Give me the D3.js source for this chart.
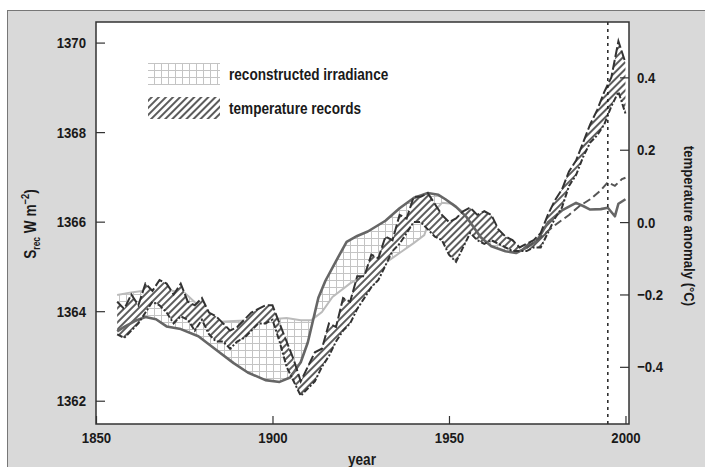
<!DOCTYPE html>
<html>
<head>
<meta charset="utf-8">
<script src="https://cdn.jsdelivr.net/npm/d3@7"></script>
<style>
body { margin: 0; background: #fff; }
svg text { font-family: "Liberation Sans", Arial, sans-serif; font-weight: bold; fill: #1a1a1a; }
</style>
</head>
<body>
<svg id="chart" width="705" height="467"></svg>
<script>
// tick labels
var yearTicks = [1850, 1900, 1950, 2000];
var irrTicks = [1362, 1364, 1366, 1368, 1370];
var tempTicks = [-0.4, -0.2, 0.0, 0.2, 0.4];

// reconstructed irradiance, dark solid curve (W m-2)
var solidYears = [1856, 1858, 1861, 1864, 1867, 1870, 1874, 1879, 1884, 1889, 1893, 1898, 1902, 1905, 1908, 1910, 1913, 1915, 1918, 1921, 1924, 1927, 1932, 1936, 1940, 1944, 1947, 1949, 1952, 1955, 1959, 1962, 1966, 1969, 1972, 1975, 1978, 1982, 1986, 1988, 1990, 1993, 1995, 1997, 1998, 2000];
var solidIrr = [1363.55, 1363.65, 1363.78, 1363.87, 1363.82, 1363.66, 1363.60, 1363.44, 1363.14, 1362.84, 1362.63, 1362.46, 1362.42, 1362.52, 1362.86, 1363.30, 1364.30, 1364.68, 1365.12, 1365.55, 1365.68, 1365.78, 1366.02, 1366.30, 1366.53, 1366.64, 1366.60, 1366.50, 1366.33, 1366.10, 1365.65, 1365.45, 1365.34, 1365.30, 1365.42, 1365.58, 1365.98, 1366.25, 1366.42, 1366.35, 1366.27, 1366.28, 1366.31, 1366.12, 1366.40, 1366.50];

// reconstructed irradiance, light curve (other edge of the band)
var lightYears = [1856, 1860, 1864, 1867, 1871, 1875, 1878, 1880, 1884, 1889, 1894, 1898, 1904, 1908, 1911, 1914, 1917, 1922, 1927, 1932, 1936, 1940, 1943, 1945, 1948, 1951, 1955, 1958, 1962, 1966, 1969, 1972];
var lightIrr = [1364.36, 1364.42, 1364.46, 1364.48, 1364.46, 1364.42, 1364.20, 1364.02, 1363.76, 1363.78, 1363.80, 1363.81, 1363.85, 1363.80, 1363.80, 1363.98, 1364.32, 1364.62, 1364.85, 1365.08, 1365.30, 1365.52, 1365.70, 1366.15, 1366.42, 1366.40, 1366.15, 1365.85, 1365.58, 1365.42, 1365.32, 1365.42];

// late dashed irradiance curve
var dashYears = [1972, 1976, 1980, 1984, 1987, 1990, 1993, 1995, 1997, 1999, 2000];
var dashIrr = [1365.42, 1365.66, 1365.92, 1366.15, 1366.35, 1366.50, 1366.70, 1366.88, 1366.80, 1366.95, 1366.98];

// temperature records, upper and lower edge (deg C)
var tempYears = d3.range(1856, 2001, 2);
var tempHigh = [-0.22, -0.24, -0.20, -0.23, -0.17, -0.19, -0.16, -0.17, -0.20, -0.17, -0.22, -0.23, -0.21, -0.25, -0.26, -0.28, -0.30, -0.29, -0.27, -0.25, -0.24, -0.23, -0.23, -0.28, -0.33, -0.38, -0.44, -0.40, -0.36, -0.35, -0.28, -0.29, -0.21, -0.22, -0.15, -0.15, -0.09, -0.10, -0.04, -0.05, 0.02, 0.01, 0.07, 0.07, 0.08, 0.05, 0.02, 0.00, 0.01, 0.03, 0.04, 0.02, 0.03, 0.02, -0.02, -0.04, -0.05, -0.07, -0.06, -0.05, -0.03, 0.02, 0.06, 0.09, 0.14, 0.17, 0.22, 0.27, 0.31, 0.36, 0.40, 0.50, 0.44];
var tempLow = [-0.31, -0.32, -0.30, -0.28, -0.25, -0.22, -0.23, -0.25, -0.28, -0.26, -0.27, -0.30, -0.27, -0.31, -0.33, -0.33, -0.35, -0.33, -0.32, -0.30, -0.28, -0.28, -0.27, -0.33, -0.40, -0.44, -0.48, -0.46, -0.44, -0.40, -0.37, -0.33, -0.30, -0.28, -0.24, -0.21, -0.18, -0.16, -0.12, -0.08, -0.06, -0.03, 0.00, 0.00, -0.02, -0.04, -0.05, -0.09, -0.11, -0.07, -0.03, -0.05, -0.06, -0.05, -0.06, -0.07, -0.08, -0.08, -0.08, -0.07, -0.07, -0.03, 0.01, 0.04, 0.10, 0.13, 0.18, 0.22, 0.24, 0.27, 0.32, 0.36, 0.30];

var markYear = 1995;

// horizontal squeeze, the original uses a condensed face
var k = 0.85;

function squeeze(sel)
{
    sel.each(function() {
        var t = d3.select(this);
        var xx = +t.attr("x") || 0;
        var tr = t.attr("transform") || "";
        t.attr("x", xx / k)
         .attr("transform", tr + " scale(" + k + ",1)");
    });
}

function main()
{
    var left = 96, right = 629, top = 22, bottom = 424;

    var svg = d3.select("#chart");

    var x = d3.scaleLinear().domain([1850, 2001]).range([left, right]);
    var yL = d3.scaleLinear().domain([1361.48, 1370.46]).range([bottom, top]);
    var yR = d3.scaleLinear().domain([-0.558, 0.553]).range([bottom, top]);

    // patterns
    var defs = svg.append("defs");
    var grid = defs.append("pattern")
        .attr("id", "grid")
        .attr("patternUnits", "userSpaceOnUse")
        .attr("width", 7).attr("height", 7);
    grid.append("rect").attr("width", 7).attr("height", 7).attr("fill", "#fff");
    grid.append("path").attr("d", "M0,0.5H7M0.5,0V7")
        .attr("stroke", "#c4c4c4").attr("stroke-width", 1);

    var hatch = defs.append("pattern")
        .attr("id", "hatch")
        .attr("patternUnits", "userSpaceOnUse")
        .attr("width", 5).attr("height", 5)
        .attr("patternTransform", "rotate(45)");
    hatch.append("rect").attr("width", 5).attr("height", 5).attr("fill", "#fff");
    hatch.append("line").attr("x1", 1).attr("x2", 1).attr("y1", 0).attr("y2", 5)
        .attr("stroke", "#333").attr("stroke-width", 1.6);

    // background panel
    svg.append("rect")
        .attr("x", 7.5).attr("y", 10.5)
        .attr("width", 710).attr("height", 470)
        .attr("fill", "#d9d9d9")
        .attr("stroke", "#777");

    svg.append("rect")
        .attr("x", left).attr("y", top)
        .attr("width", right - left).attr("height", bottom - top)
        .attr("fill", "#fff");

    var plot = svg.append("g");

    // irradiance band between the light and the dark curve
    var lightFn = d3.scaleLinear().domain(lightYears).range(lightIrr);
    var solidFn = d3.scaleLinear().domain(solidYears).range(solidIrr);
    var bandYears = d3.merge([solidYears.filter(function(d) { return d <= 1972; }), lightYears]).sort(d3.ascending);

    plot.append("path")
        .datum(bandYears)
        .attr("fill", "url(#grid)")
        .attr("d", d3.area()
            .x(function(d) { return x(d); })
            .y0(function(d) { return yL(solidFn(d)); })
            .y1(function(d) { return yL(lightFn(d)); }));

    plot.append("path")
        .datum(lightYears)
        .attr("fill", "none")
        .attr("stroke", "#bbb")
        .attr("stroke-width", 2)
        .attr("d", d3.line()
            .x(function(d) { return x(d); })
            .y(function(d, i) { return yL(lightIrr[i]); }));

    // temperature band
    plot.append("path")
        .datum(tempYears)
        .attr("fill", "url(#hatch)")
        .attr("d", d3.area()
            .x(function(d) { return x(d); })
            .y0(function(d, i) { return yR(tempLow[i]); })
            .y1(function(d, i) { return yR(tempHigh[i]); }));

    plot.append("path")
        .datum(solidYears)
        .attr("fill", "none")
        .attr("stroke", "#666")
        .attr("stroke-width", 2.6)
        .attr("stroke-linejoin", "round")
        .attr("d", d3.line()
            .x(function(d) { return x(d); })
            .y(function(d, i) { return yL(solidIrr[i]); }));

    var tempLine = function(vals) {
        return d3.line()
            .x(function(d) { return x(d); })
            .y(function(d, i) { return yR(vals[i]); });
    };

    plot.append("path")
        .datum(tempYears)
        .attr("fill", "none")
        .attr("stroke", "#333")
        .attr("stroke-width", 2)
        .attr("stroke-dasharray", "10,3")
        .attr("d", tempLine(tempHigh));

    plot.append("path")
        .datum(tempYears)
        .attr("fill", "none")
        .attr("stroke", "#333")
        .attr("stroke-width", 2)
        .attr("stroke-dasharray", "6,2,2,2")
        .attr("d", tempLine(tempLow));

    plot.append("path")
        .datum(dashYears)
        .attr("fill", "none")
        .attr("stroke", "#555")
        .attr("stroke-width", 2)
        .attr("stroke-dasharray", "8,4")
        .attr("d", d3.line()
            .x(function(d) { return x(d); })
            .y(function(d, i) { return yL(dashIrr[i]); }));

    // 1995 marker
    plot.append("line")
        .attr("x1", x(markYear)).attr("x2", x(markYear))
        .attr("y1", top).attr("y2", bottom)
        .attr("stroke", "#222")
        .attr("stroke-width", 1.5)
        .attr("stroke-dasharray", "3,4");

    // axes, ticks pointing inward
    var styleAxis = function(g) {
        g.select(".domain").remove();
        g.selectAll(".tick line").attr("stroke", "#333").attr("stroke-width", 1.2);
        g.selectAll(".tick text").attr("font-size", 15.5).attr("fill", "#1a1a1a").call(squeeze);
    };

    svg.append("g")
        .attr("transform", "translate(" + left + ",0)")
        .call(d3.axisLeft(yL).tickValues(irrTicks).tickFormat(d3.format("d")).tickSize(-9).tickPadding(10))
        .call(styleAxis);

    svg.append("g")
        .attr("transform", "translate(" + right + ",0)")
        .call(d3.axisRight(yR).tickValues(tempTicks).tickFormat(d3.format(".1f")).tickSize(-9).tickPadding(8))
        .call(styleAxis);

    svg.append("g")
        .attr("transform", "translate(0," + bottom + ")")
        .call(d3.axisBottom(x).tickValues(yearTicks).tickFormat(d3.format("d")).tickSize(-8).tickPadding(8))
        .call(styleAxis);

    svg.append("rect")
        .attr("x", left).attr("y", top)
        .attr("width", right - left).attr("height", bottom - top)
        .attr("fill", "none")
        .attr("stroke", "#333")
        .attr("stroke-width", 1.5);

    // axis titles
    svg.append("text")
        .attr("x", 362)
        .attr("y", 465)
        .attr("text-anchor", "middle")
        .attr("font-size", 16)
        .text("year")
        .call(squeeze);

    var lt = svg.append("text")
        .attr("transform", "translate(36,224) rotate(-90)")
        .attr("text-anchor", "middle")
        .attr("font-size", 16);
    lt.append("tspan").text("S");
    lt.append("tspan").attr("font-size", 10).attr("dy", 4).text("rec");
    lt.append("tspan").attr("dy", -4).text(" W m");
    lt.append("tspan").attr("font-size", 11).attr("dy", -7).text("\u22122");
    lt.append("tspan").attr("dy", 7).text(")");
    lt.call(squeeze);

    svg.append("text")
        .attr("transform", "translate(684,226) rotate(90)")
        .attr("text-anchor", "middle")
        .attr("font-size", 15.5)
        .text("temperature anomaly (\u00b0C)")
        .call(squeeze);

    // legend
    var legend = svg.append("g");
    legend.append("rect")
        .attr("x", 148).attr("y", 63).attr("width", 72).attr("height", 22)
        .attr("fill", "url(#grid)");
    legend.append("rect")
        .attr("x", 148).attr("y", 97).attr("width", 72).attr("height", 22)
        .attr("fill", "url(#hatch)");
    legend.append("text").attr("x", 229).attr("y", 80).attr("font-size", 16).text("reconstructed irradiance").call(squeeze);
    legend.append("text").attr("x", 229).attr("y", 114).attr("font-size", 16).text("temperature records").call(squeeze);
}

main();
</script>
</body>
</html>
